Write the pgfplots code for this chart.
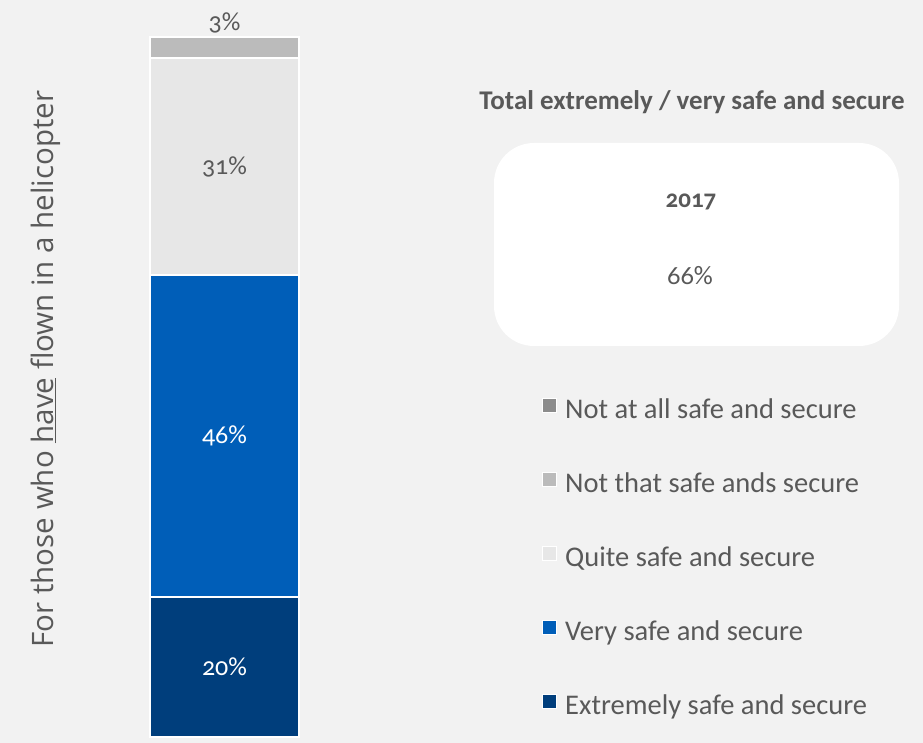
\documentclass[border=0pt]{standalone}
\usepackage{pgfplots}
\pgfplotsset{compat=1.18}
\usepackage{fontspec}
\setmainfont{Carlito}[Numbers=OldStyle]
\newfontfamily\ylabfont{Open Sans}
\definecolor{bg}{HTML}{F2F2F2}
\definecolor{txt}{HTML}{595959}
\definecolor{cExt}{HTML}{003E7C}
\definecolor{cVery}{HTML}{005EB8}
\definecolor{cQuite}{HTML}{E7E7E7}
\definecolor{cNotThat}{HTML}{BBBBBB}
\definecolor{cNotAll}{HTML}{8C8C8C}
\begin{document}
\begin{tikzpicture}[x=1pt,y=1pt]
\fill[bg] (0,0) rectangle (923,743);
\begin{axis}[
  at={(150pt,6pt)}, anchor=south west,
  scale only axis, width=149pt, height=700pt,
  xmin=0, xmax=1, ymin=0, ymax=100, enlargelimits=false,
  axis lines=none, clip=false,
  ybar stacked, bar width=149pt,
  every axis plot/.append style={draw=white, line width=1.5pt},
  legend cell align=left,
  reverse legend,
  legend style={at={(2.631,0.485)}, anchor=north west, draw=none, fill=none,
    inner sep=0pt, column sep=8pt, row sep=48pt,
    nodes={inner sep=0pt, text height=18pt, text depth=5pt, text=txt,
      font=\fontsize{28.5}{32}\selectfont}},
  legend image code/.code={\fill[#1, draw=white, line width=1pt] (0pt,0pt) rectangle (14pt,14pt);},
]
\addplot[fill=cExt] coordinates {(0.5,20)};
\addlegendentry{Extremely safe and secure}
\addplot[fill=cVery] coordinates {(0.5,46)};
\addlegendentry{Very safe and secure}
\addplot[fill=cQuite] coordinates {(0.5,31)};
\addlegendentry{Quite safe and secure}
\addplot[fill=cNotThat] coordinates {(0.5,3)};
\addlegendentry{Not that safe ands secure}
\addplot[fill=cNotAll] coordinates {(0.5,0)};
\addlegendentry{Not at all safe and secure}
\coordinate (l20) at (axis cs:0.5,10);
\coordinate (l46) at (axis cs:0.5,43);
\coordinate (l31) at (axis cs:0.5,81.5);
\coordinate (l3) at (axis cs:0.5,100.9);
\end{axis}
\node[text=white, font=\fontsize{26}{30}\selectfont] at (l20) {20\%};
\node[text=white, font=\fontsize{26}{30}\selectfont] at (l46) {46\%};
\node[text=txt, font=\fontsize{26}{30}\selectfont] at (l31) {31\%};
\node[text=txt, font=\fontsize{26}{30}\selectfont, anchor=base] at (l3) {3\%};
\node[rotate=90, text=txt, font=\ylabfont\fontsize{29.5}{34}\selectfont] at (46,374) {For those who \underline{have} flown in a helicopter};
\fill[white, rounded corners=40pt] (494,397) rectangle (899,600);
\node[text=txt, font=\bfseries\fontsize{27}{30}\selectfont] at (692,641) {Total extremely / very safe and secure};
\node[text=txt, font=\bfseries\fontsize{25}{28}\selectfont] at (691,541) {2017};
\node[text=txt, font=\fontsize{26.5}{30}\selectfont] at (690,467) {66\%};
\end{tikzpicture}
\end{document}
